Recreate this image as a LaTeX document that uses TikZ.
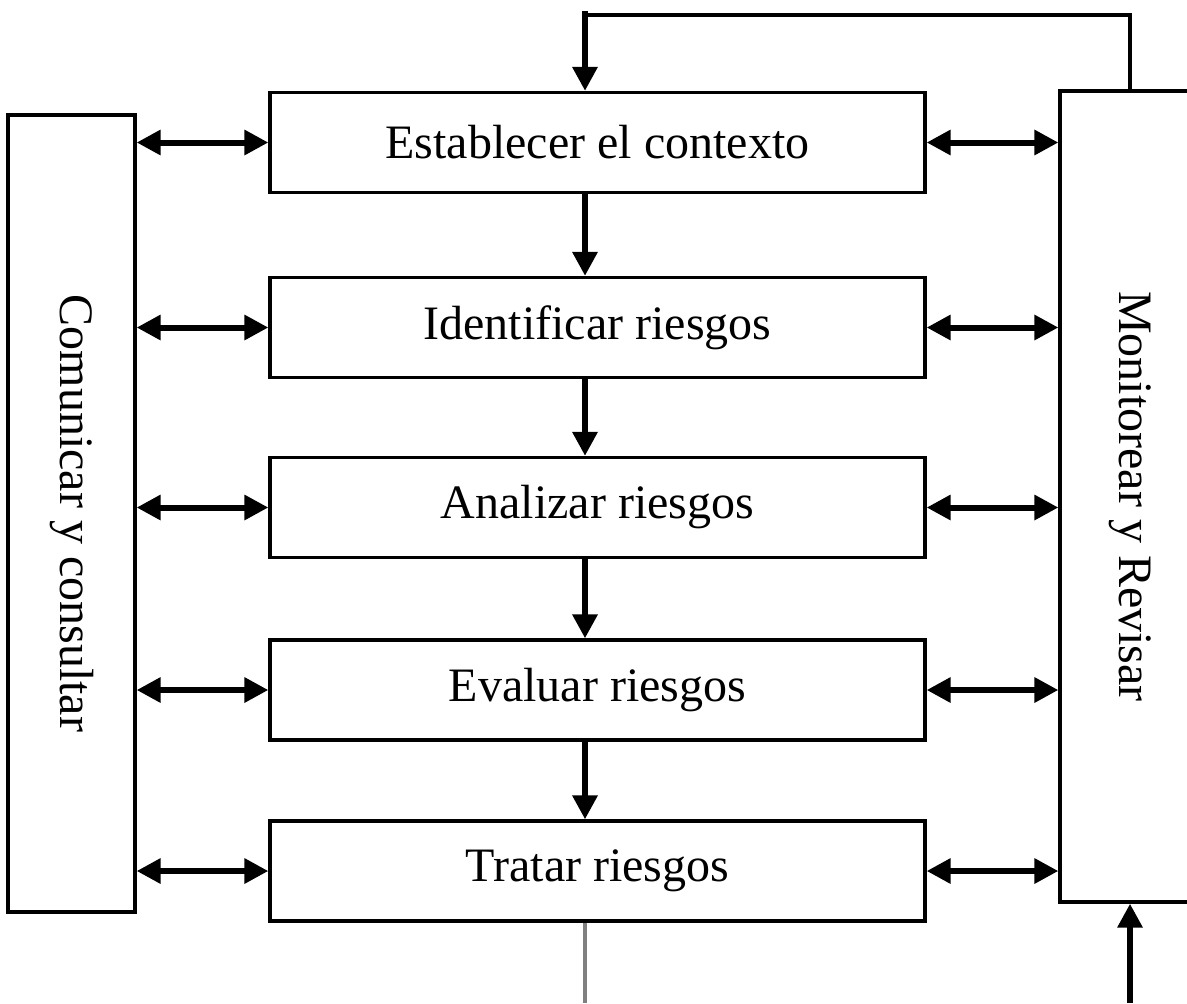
\documentclass[tikz,border=0pt]{standalone}
\usepackage{fontspec}
\setmainfont{Liberation Serif}
\usetikzlibrary{arrows.meta}
\begin{document}
\begin{tikzpicture}[x=0.5pt,y=-0.5pt,
  lbl/.style={font=\fontsize{24}{28}\selectfont},
  stage/.style={draw=black,line width=1.6pt,minimum width=327.5pt,minimum height=50pt,inner sep=0pt,lbl},
  side/.style={draw=black,line width=1.6pt,inner sep=0pt},
  flow/.style={line width=3pt,-{Triangle[length=12pt,width=12pt]}},
  both/.style={line width=3pt,{Triangle[length=12pt,width=12pt]}-{Triangle[length=12pt,width=12pt]}},
  loop/.style={line width=1.6pt}]
\useasboundingbox (0,0) rectangle (1187,1003);
\clip (0,0) rectangle (1187,1003);
\fill[white] (0,0) rectangle (1187,1003);
\node[stage] (ctx) at (597.5,142.5) {Establecer el contexto};
\node[stage] (ident) at (597.5,327.5) {Identificar riesgos};
\node[stage] (anal) at (597.5,507.5) {Analizar riesgos};
\node[stage] (eval) at (597.5,690) {Evaluar riesgos};
\node[stage] (trat) at (597.5,871) {Tratar riesgos};
\node[side,minimum width=63.5pt,minimum height=398.5pt] (com) at (71.5,513.5) {};
\node[rotate=-90,lbl] (comt) at (com.center) {Comunicar y consultar};
\node[side,minimum width=75pt,minimum height=405.5pt] (mon) at (1135,496.5) {};
\node[rotate=-90,lbl] (mont) at (1130,496.5) {Monitorear y Revisar};
\coordinate (ax) at (585,0);
\coordinate (rx) at (1130,0);
\coordinate (top) at (0,15);
\coordinate (bot) at (0,1003);
% vertical flow
\draw[flow] (ctx.south -| ax) -- (ident.north -| ax);
\draw[flow] (ident.south -| ax) -- (anal.north -| ax);
\draw[flow] (anal.south -| ax) -- (eval.north -| ax);
\draw[flow] (eval.south -| ax) -- (trat.north -| ax);
% top loop
\draw[loop] (mon.north -| rx) -- (top -| rx) -- (top -| ax);
\draw[flow] ([yshift=2pt]top -| ax) -- (ctx.north -| ax);
% bottom
\draw[line width=1.6pt,gray] (trat.south -| ax) -- (bot -| ax);
\draw[flow] (bot -| rx) -- (mon.south -| rx);
% double arrows
\foreach \n in {ctx,ident,anal,eval,trat}{
  \draw[both] (\n.west -| com.east) -- (\n.west);
  \draw[both] (\n.east) -- (\n.east -| mon.west);
}
\end{tikzpicture}
\end{document}
